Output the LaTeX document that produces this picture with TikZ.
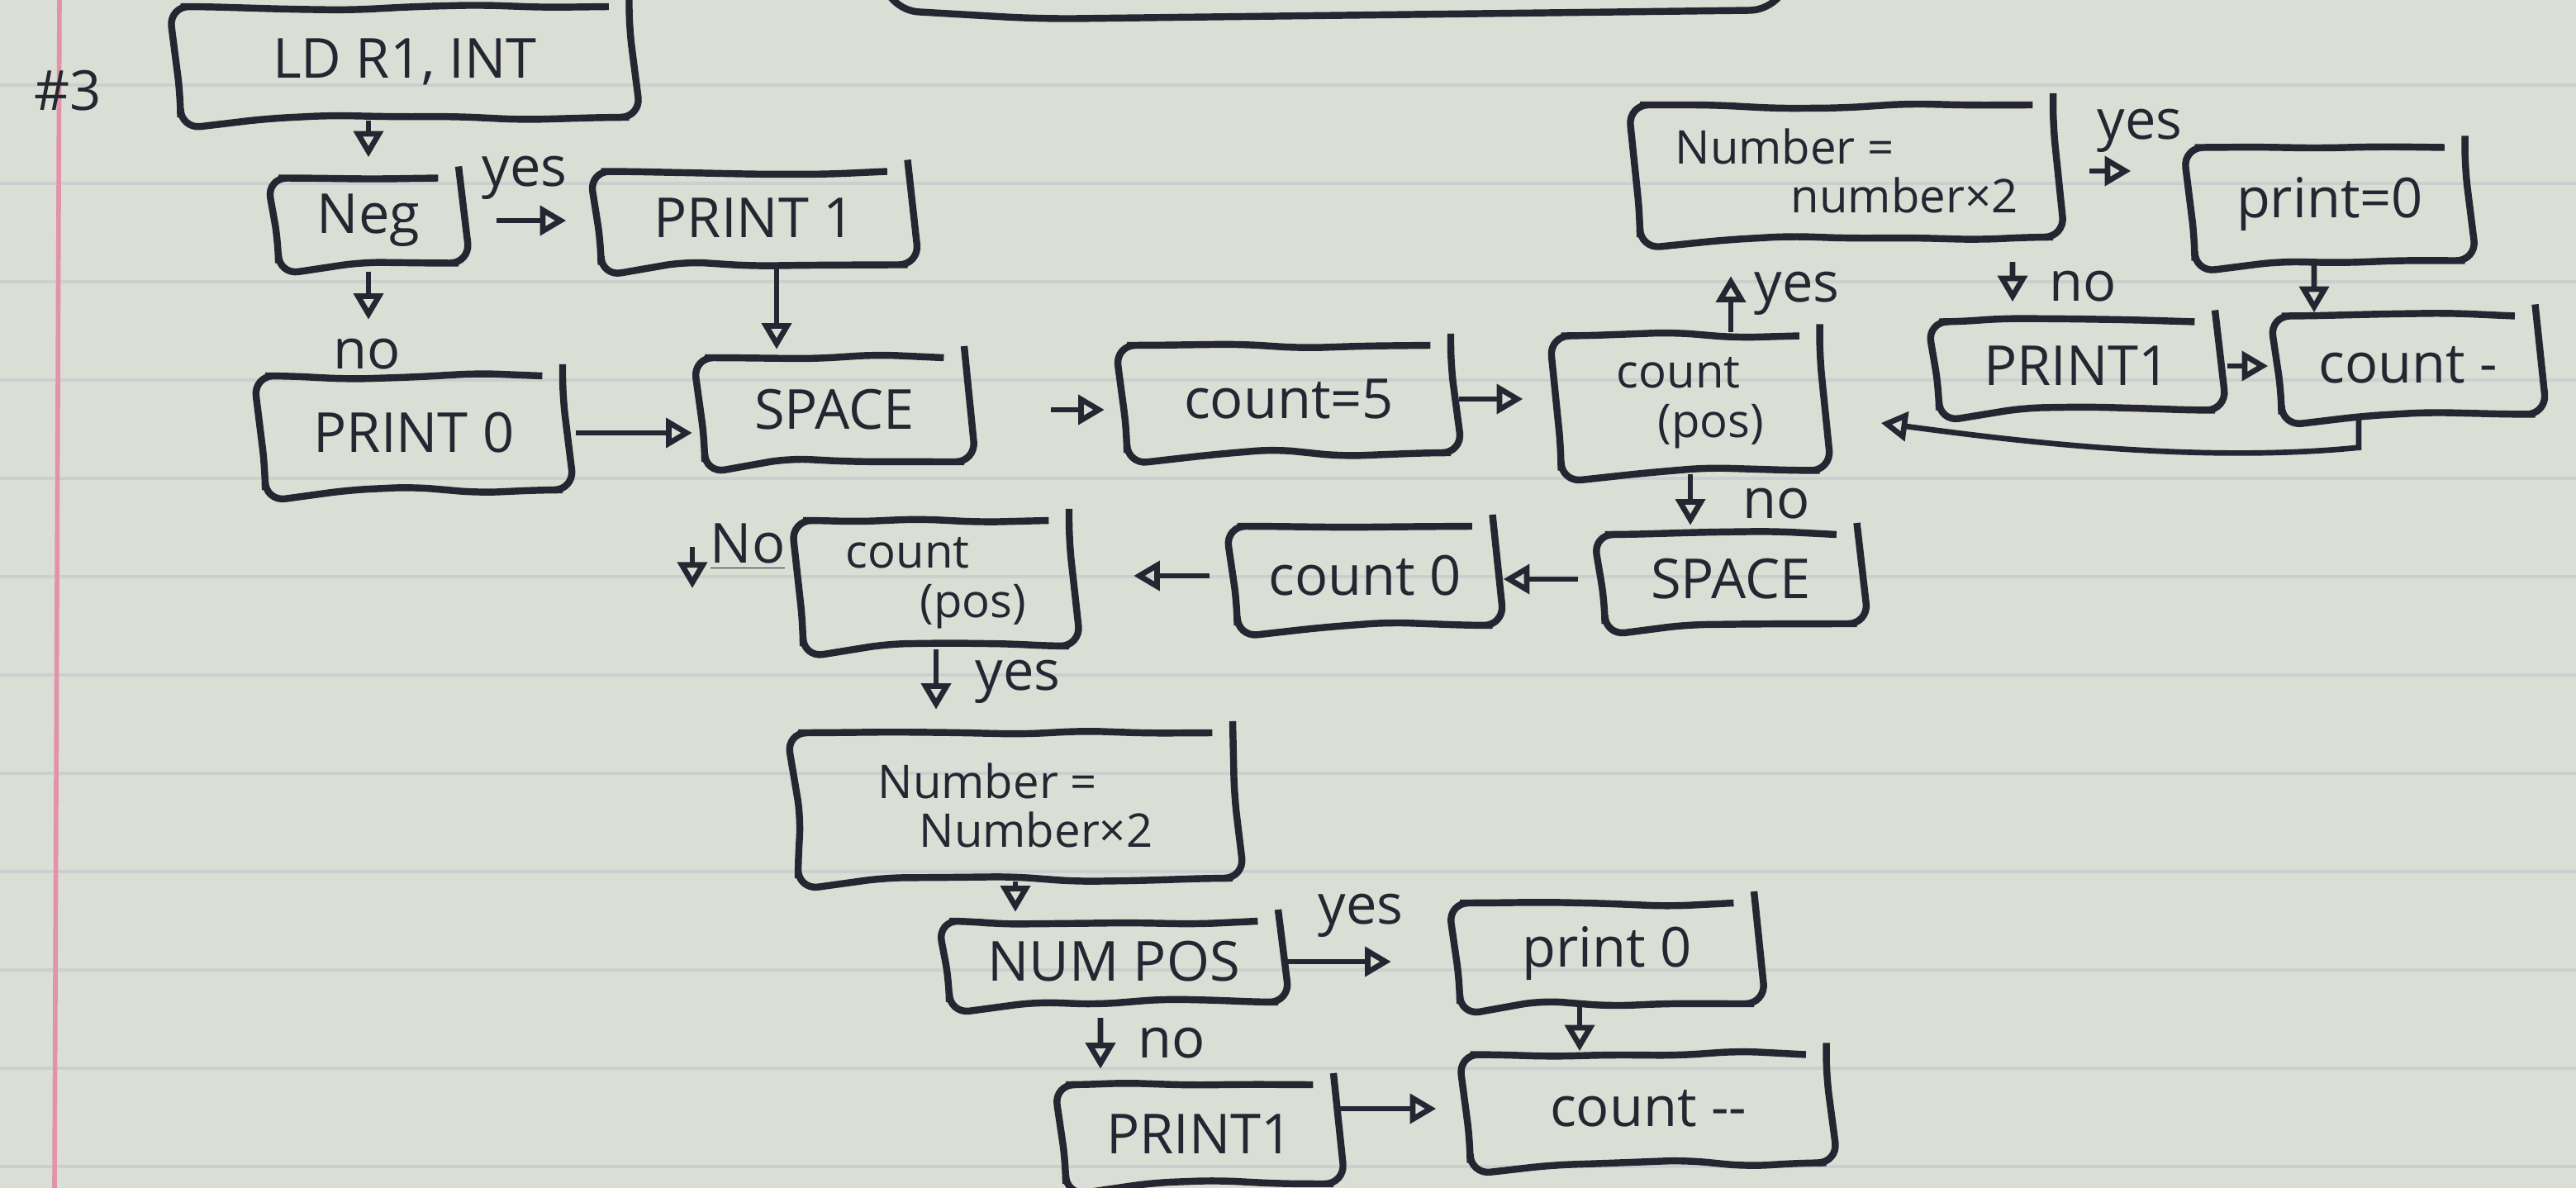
\documentclass[tikz,border=0pt]{standalone}
\usepackage{fontspec}
\newfontfamily\handfont{Open Sans}
\usetikzlibrary{arrows.meta,decorations.pathmorphing}

\definecolor{ink}{RGB}{38,38,50}
\definecolor{paper}{RGB}{219,222,213}
\definecolor{rule}{RGB}{203,208,207}
\definecolor{margin}{RGB}{226,146,170}

\tikzset{
  box/.style={draw=ink, line width=2.4pt, rounded corners=7pt, inner sep=0pt,
    font=\handfont\fontsize{19}{21}\selectfont, text=ink, align=center,
    decorate, decoration={random steps, segment length=22pt, amplitude=1.2pt}},
  twoline/.style={font=\handfont\fontsize{16}{17}\selectfont, align=left},
  arr/.style={draw=ink, line width=1.9pt, -{Triangle[open, length=9pt, width=10pt]}},
  lbl/.style={font=\handfont\fontsize{19}{21}\selectfont, text=ink, inner sep=0pt}
}

\begin{document}
\begin{tikzpicture}[x=1cm, y=-1cm]
  \pgfmathsetseed{7}
  % paper
  \useasboundingbox (0,0) rectangle (31.18,14.38);
  \fill[paper] (0,0) rectangle (31.18,14.38);
  \foreach \k in {0,...,11}
    \draw[rule, line width=1.1pt] (0,{1.03+1.19*\k}) -- (31.18,{1.03+1.19*\k});
  \draw[margin, line width=1.6pt] (0.72,0) -- (0.66,14.38);
  % bottom of a box from the part above
  \draw[ink, line width=2.4pt, rounded corners=12pt] (10.66,-0.5) -- (10.70,0.12) -- (12.6,0.23) -- (21.60,0.12) -- (21.69,-0.5);

  \node[lbl] (num) at (0.82,1.10) {\#3};

  % boxes
  \node[box, minimum width=5.43cm, minimum height=1.34cm] (ld) at (4.90,0.75) {LD R1, INT};
  \node[box, minimum width=2.18cm, minimum height=1.03cm] (neg) at (4.46,2.67) {Neg};
  \node[box, minimum width=3.71cm, minimum height=1.13cm] (prA) at (9.13,2.64) {PRINT 1};
  \node[box, minimum width=3.60cm, minimum height=1.38cm] (prB) at (5.01,5.24) {PRINT 0};
  \node[box, minimum width=3.14cm, minimum height=1.26cm] (spA) at (10.10,4.96) {SPACE};
  \node[box, minimum width=3.92cm, minimum height=1.30cm] (cnt5) at (15.60,4.83) {count=5};
  \node[box, twoline, minimum width=3.13cm, minimum height=1.63cm] (cpA) at (20.46,4.88) {count\\\hspace*{0.5cm}(pos)};
  \node[box, twoline, minimum width=5.00cm, minimum height=1.60cm] (numA) at (22.35,2.07) {Number =\\\hspace*{1.4cm}number×2};
  \node[box, minimum width=3.27cm, minimum height=1.37cm] (prz) at (28.20,2.47) {print=0};
  \node[box, minimum width=3.34cm, minimum height=1.07cm] (prC) at (25.14,4.43) {PRINT1};
  \node[box, minimum width=3.07cm, minimum height=1.19cm] (cdec) at (29.15,4.42) {count -};
  \node[box, minimum width=3.05cm, minimum height=1.08cm] (spB) at (20.95,7.01) {SPACE};
  \node[box, minimum width=3.09cm, minimum height=1.20cm] (c0) at (16.52,6.97) {count 0};
  \node[box, twoline, minimum width=3.22cm, minimum height=1.52cm] (cpB) at (11.33,7.06) {count\\\hspace*{0.9cm}(pos)};
  \node[box, twoline, minimum width=5.26cm, minimum height=1.76cm] (numB) at (12.29,9.75) {Number =\\\hspace*{0.5cm}Number×2};
  \node[box, minimum width=3.98cm, minimum height=0.98cm] (npos) at (13.48,11.64) {NUM POS};
  \node[box, minimum width=3.56cm, minimum height=1.22cm] (pr0) at (19.45,11.54) {print 0};
  \node[box, minimum width=4.31cm, minimum height=1.31cm] (cdd) at (19.95,13.42) {count -{}-};
  \node[box, minimum width=3.24cm, minimum height=1.20cm] (prD) at (14.52,13.73) {PRINT1};

  % labels
  \node[lbl] (yA) at (6.35,2.15) {yes};
  \node[lbl] (nA) at (4.44,4.29) {no};
  \node[lbl] (yB) at (21.75,3.55) {yes};
  \node[lbl] (yC) at (25.90,1.58) {yes};
  \node[lbl] (nB) at (25.21,3.47) {no};
  \node[lbl] (nC) at (21.50,6.10) {no};
  \node[lbl] (noL) at (9.05,6.62) {\underline{No}};
  \node[lbl] (yD) at (12.32,8.25) {yes};
  \node[lbl] (yE) at (16.47,11.08) {yes};
  \node[lbl] (nD) at (14.18,12.63) {no};

  % arrows
  \draw[arr, shorten >=0.21cm] (neg.north |- ld.south) -- (neg.north);
  \draw[arr, shorten <=0.42cm, shorten >=0.38cm] (neg.east) -- (neg.east -| prA.west);
  \draw[arr, shorten <=0.06cm, shorten >=0.64cm] (neg.south) -- (neg.south |- prB.north);
  \draw[arr, shorten >=0.06cm] ([xshift=.27cm]prA.south) -- ([xshift=-.70cm]spA.north);
  \draw[arr, shorten <=0.12cm, shorten >=0.11cm] (prB.east) -- (prB.east -| spA.west);
  \draw[arr, shorten <=1.01cm, shorten >=0.23cm] (spA.east) -- (spA.east -| cnt5.west);
  \draw[arr, shorten <=0.06cm, shorten >=0.42cm] (cnt5.east) -- (cnt5.east -| cpA.west);
  \draw[arr, shorten >=0.43cm] ([xshift=.49cm]cpA.north) -- ([xshift=-1.40cm]numA.south);
  \draw[arr, shorten <=0.40cm, shorten >=0.73cm] (numA.east) -- (numA.east -| prz.west);
  \draw[arr, shorten <=0.26cm, shorten >=0.20cm] ([xshift=2.01cm]numA.south) -- ([xshift=-.78cm]prC.north);
  \draw[arr] ([xshift=-.19cm]prz.south) -- ([xshift=-1.14cm]cdec.north);
  \draw[arr, shorten <=0.11cm, shorten >=0.12cm] (prC.east) -- (prC.east -| cdec.west);
  \draw[arr] ([xshift=-.60cm]cdec.south) -- ++(0,.36) .. controls +(-2,.2) and +(1.5,.2) .. ([xshift=.70cm,yshift=-.24cm]cpA.east);
  \draw[arr, shorten >=0.07cm] (cpA.south) -- (cpA.south |- spB.north);
  \draw[arr, shorten <=0.28cm, shorten >=0.09cm] (spB.west) -- (spB.west -| c0.east);
  \draw[arr, shorten <=0.29cm, shorten >=0.74cm] (c0.west) -- (c0.west -| cpB.east);
  \coordinate (noS) at (8.38,6.62);
  \coordinate (noE) at (8.38,7.12);
  \draw[arr] (noS) -- (noE);
  \draw[arr, shorten >=0.24cm] (cpB.south) -- (cpB.south |- numB.north);
  \draw[arr, shorten >=0.07cm] (numB.south) -- (numB.south |- npos.north);
  \draw[arr, shorten <=0.04cm, shorten >=0.79cm] (npos.east) -- (npos.east -| pr0.west);
  \draw[arr, shorten <=0.15cm, shorten >=0.15cm] ([xshift=-.16cm]npos.south) -- ([xshift=-1.20cm]prD.north);
  \draw[arr] ([xshift=-.33cm]pr0.south) -- ([xshift=-.83cm]cdd.north);
  \draw[arr, shorten >=0.37cm] (prD.east |- cdd.west) -- (cdd.west);
\end{tikzpicture}
\end{document}
